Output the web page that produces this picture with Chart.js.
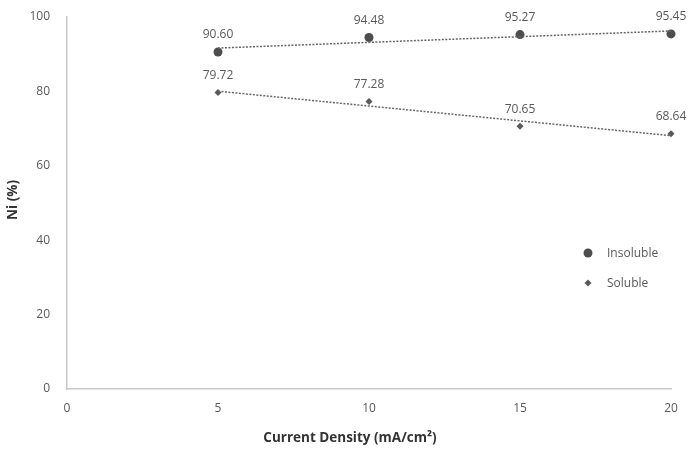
<!DOCTYPE html>
<html lang="en">
<head>
    <meta charset="UTF-8">
    <title>Ni vs Current Density</title>
    <script src="https://cdn.jsdelivr.net/npm/chart.js"></script>
    <style>
        body { margin: 0; background: #fff; }
        .chart-box { width: 700px; height: 449px; position: relative; }
    </style>
</head>
<body>
    <div class="chart-box"><canvas id="niChart"></canvas></div>
    <script>
        const currentDensity = [5, 10, 15, 20];
        const insoluble = [90.60, 94.48, 95.27, 95.45];
        const soluble = [79.72, 77.28, 70.65, 68.64];
        const xTicks = [0, 5, 10, 15, 20];
        const yTicks = [0, 20, 40, 60, 80, 100];

        const FONT = "'Open Sans', 'Noto Sans', sans-serif";
        const GREY = '#595959';

        // least squares line, like the spreadsheet trendline
        function trend(xs, ys) {
            const n = xs.length;
            const mx = xs.reduce((a, b) => a + b, 0) / n;
            const my = ys.reduce((a, b) => a + b, 0) / n;
            let sxy = 0, sxx = 0;
            xs.forEach((x, i) => { sxy += (x - mx) * (ys[i] - my); sxx += (x - mx) * (x - mx); });
            const k = sxy / sxx, b = my - k * mx;
            const x0 = xs[0], x1 = xs[n - 1];
            return [{x: x0, y: k * x0 + b}, {x: x1, y: k * x1 + b}];
        }

        const pts = (ys) => currentDensity.map((x, i) => ({x, y: ys[i]}));

        const labelsPlugin = {
            id: 'extras',
            afterDatasetsDraw(chart) {
                const ctx = chart.ctx;
                ctx.save();
                ctx.fillStyle = GREY;
                ctx.font = "12px " + FONT;
                ctx.textAlign = 'center';
                ctx.textBaseline = 'bottom';
                [2, 3].forEach(di => {
                    const meta = chart.getDatasetMeta(di);
                    meta.data.forEach((el, i) => {
                        const v = chart.data.datasets[di].data[i].y;
                        ctx.fillText(v.toFixed(2), el.x, el.y - 11);
                    });
                });

                // legend inside plot
                const items = [
                    {text: 'Insoluble', ds: 2, y: 253},
                    {text: 'Soluble', ds: 3, y: 283}
                ];
                ctx.textAlign = 'left';
                ctx.textBaseline = 'middle';
                ctx.font = "12px " + FONT;
                items.forEach(it => {
                    const d = chart.data.datasets[it.ds];
                    ctx.fillStyle = d.pointBackgroundColor;
                    Chart.helpers.drawPoint(ctx, {pointStyle: d.pointStyle, radius: d.pointRadius, borderWidth: 0}, 588, it.y);
                    ctx.fillStyle = GREY;
                    ctx.fillText(it.text, 607, it.y + 1);
                });

                // axis titles
                ctx.fillStyle = '#333';
                ctx.font = "bold 13.5px " + FONT;
                ctx.textAlign = 'center';
                ctx.fillText('Current Density (mA/cm²)', 350, 438);
                ctx.translate(13, 200);
                ctx.rotate(-Math.PI / 2);
                ctx.fillText('Ni (%)', 0, 0);
                ctx.restore();
            }
        };

        new Chart(document.getElementById('niChart'), {
            type: 'scatter',
            data: {
                datasets: [
                    {
                        label: 'Insoluble trend',
                        data: trend(currentDensity, insoluble),
                        showLine: true,
                        borderColor: '#666',
                        borderWidth: 1.5,
                        borderDash: [2, 1.5],
                        pointRadius: 0,
                        clip: false
                    },
                    {
                        label: 'Soluble trend',
                        data: trend(currentDensity, soluble),
                        showLine: true,
                        borderColor: '#666',
                        borderWidth: 1.5,
                        borderDash: [2, 1.5],
                        pointRadius: 0,
                        clip: false
                    },
                    {
                        label: 'Insoluble',
                        data: pts(insoluble),
                        pointStyle: 'circle',
                        pointRadius: 4.5,
                        pointBackgroundColor: '#4d4d4d',
                        pointBorderWidth: 0,
                        clip: false
                    },
                    {
                        label: 'Soluble',
                        data: pts(soluble),
                        pointStyle: 'rectRot',
                        pointRadius: 3.5,
                        pointBackgroundColor: '#5a5a5a',
                        pointBorderWidth: 0,
                        clip: false
                    }
                ]
            },
            options: {
                responsive: true,
                maintainAspectRatio: false,
                animation: false,
                layout: {padding: {top: 17, right: 29, left: 0, bottom: 0}},
                plugins: {legend: {display: false}, tooltip: {enabled: false}},
                scales: {
                    x: {
                        type: 'linear',
                        min: 0, max: 20,
                        afterBuildTicks: s => { s.ticks = xTicks.map(v => ({value: v})); },
                        afterFit: s => { s.height = 60; s.paddingLeft = 0; s.paddingRight = 0; },
                        grid: {display: false, drawTicks: false},
                        border: {display: true, color: '#c8c8c8', width: 1.5},
                        ticks: {color: GREY, font: {family: FONT, size: 12}, padding: 12}
                    },
                    y: {
                        min: 0, max: 100,
                        afterBuildTicks: s => { s.ticks = yTicks.map(v => ({value: v})); },
                        afterFit: s => { s.width = 67; s.paddingTop = 0; s.paddingBottom = 0; },
                        grid: {display: false, drawTicks: false},
                        border: {display: true, color: '#c8c8c8', width: 1.5},
                        ticks: {color: GREY, font: {family: FONT, size: 12}, padding: 17}
                    }
                }
            },
            plugins: [labelsPlugin]
        });
    </script>
</body>
</html>
